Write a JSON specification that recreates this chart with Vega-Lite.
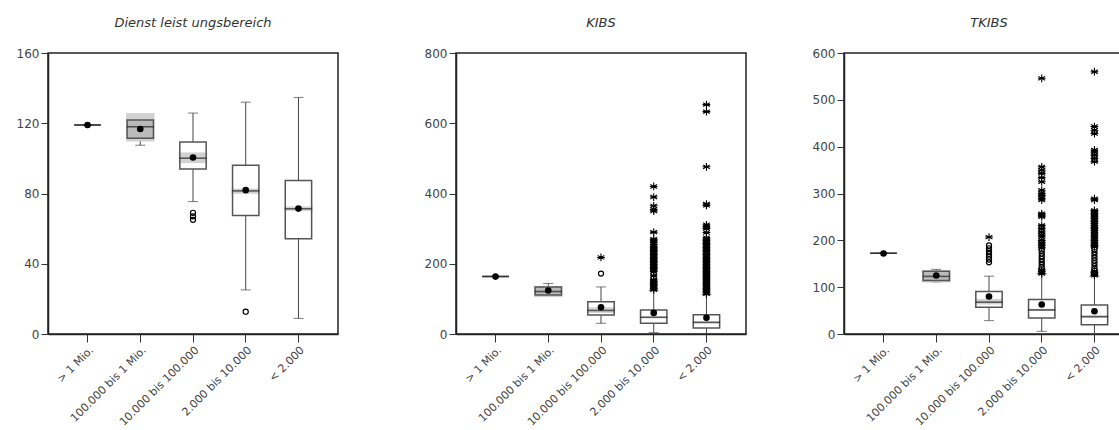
{
  "$schema": "https://vega.github.io/schema/vega-lite/v6.json",
  "padding": {"left": 15, "top": 16, "right": 0, "bottom": 0},
  "background": "white",
  "config": {
    "font": "DejaVu Sans",
    "view": {"stroke": "#222", "strokeWidth": 1.5},
    "axis": {"labelFont": "DejaVu Sans", "labelFontSize": 12, "labelColor": "#444", "tickColor": "#333", "domainColor": "#222", "domainWidth": 1.5, "grid": false, "tickSize": 7, "labelPadding": 2},
    "axisX": {"labelAngle": -45, "tickSize": 8, "labelPadding": 2, "labelFontSize": 11},
    "title": {"font": "DejaVu Sans", "fontSize": 13, "fontStyle": "italic", "fontWeight": "normal", "color": "#333", "offset": 17}
  },
  "datasets": {
    "boxes": [
      {"panel": "D", "cat": "> 1 Mio.", "lo": 119, "q1": 119, "med": 119, "q3": 119, "hi": 119, "mean": 119, "ciLo": 119, "ciHi": 119, "tone": "plain"},
      {"panel": "D", "cat": "100.000 bis 1 Mio.", "lo": 107.5, "q1": 111.5, "med": 118, "q3": 121.8, "hi": 123.5, "mean": 116.7, "ciLo": 109.6, "ciHi": 125.8, "tone": "dark"},
      {"panel": "D", "cat": "10.000 bis 100.000", "lo": 75.4, "q1": 93.9, "med": 100.1, "q3": 109.3, "hi": 125.8, "mean": 100.5, "ciLo": 97.3, "ciHi": 103.4, "tone": "plain"},
      {"panel": "D", "cat": "2.000 bis 10.000", "lo": 25.1, "q1": 67.5, "med": 81.5, "q3": 96.1, "hi": 132, "mean": 81.9, "ciLo": 79.8, "ciHi": 82.8, "tone": "plain"},
      {"panel": "D", "cat": "< 2.000", "lo": 8.9, "q1": 54.2, "med": 71.3, "q3": 87.4, "hi": 134.7, "mean": 71.4, "ciLo": 70.1, "ciHi": 72.6, "tone": "plain"},
      {"panel": "K", "cat": "> 1 Mio.", "lo": 163.8, "q1": 163.8, "med": 163.8, "q3": 163.8, "hi": 163.8, "mean": 163.5, "ciLo": 163.8, "ciHi": 163.8, "tone": "plain"},
      {"panel": "K", "cat": "100.000 bis 1 Mio.", "lo": 107, "q1": 111, "med": 121, "q3": 134, "hi": 144, "mean": 124, "ciLo": 105, "ciHi": 137, "tone": "dark"},
      {"panel": "K", "cat": "10.000 bis 100.000", "lo": 30.5, "q1": 54, "med": 67, "q3": 92, "hi": 134, "mean": 76, "ciLo": 60, "ciHi": 76, "tone": "plain"},
      {"panel": "K", "cat": "2.000 bis 10.000", "lo": 4, "q1": 30.5, "med": 47.6, "q3": 68.5, "hi": 124, "mean": 60, "ciLo": 45, "ciHi": 50, "tone": "plain"},
      {"panel": "K", "cat": "< 2.000", "lo": 1, "q1": 17, "med": 33, "q3": 55, "hi": 112, "mean": 46, "ciLo": 31, "ciHi": 35, "tone": "plain"},
      {"panel": "T", "cat": "> 1 Mio.", "lo": 172.5, "q1": 172.5, "med": 172.5, "q3": 172.5, "hi": 172.5, "mean": 172, "ciLo": 172.5, "ciHi": 172.5, "tone": "plain"},
      {"panel": "T", "cat": "100.000 bis 1 Mio.", "lo": 111, "q1": 114, "med": 123, "q3": 134, "hi": 138, "mean": 125, "ciLo": 110, "ciHi": 136, "tone": "dark"},
      {"panel": "T", "cat": "10.000 bis 100.000", "lo": 28.5, "q1": 57, "med": 68, "q3": 91, "hi": 123.5, "mean": 80, "ciLo": 63, "ciHi": 75, "tone": "plain"},
      {"panel": "T", "cat": "2.000 bis 10.000", "lo": 5.7, "q1": 34, "med": 51.4, "q3": 73.5, "hi": 128.5, "mean": 63, "ciLo": 49, "ciHi": 54, "tone": "plain"},
      {"panel": "T", "cat": "< 2.000", "lo": 0, "q1": 20, "med": 37, "q3": 62, "hi": 123.5, "mean": 48.5, "ciLo": 35, "ciHi": 39, "tone": "plain"}
    ],
    "outs": [
      {"panel": "D", "cat": "10.000 bis 100.000", "v": 69, "kind": "o"},
      {"panel": "D", "cat": "10.000 bis 100.000", "v": 67, "kind": "o"},
      {"panel": "D", "cat": "10.000 bis 100.000", "v": 65, "kind": "o"},
      {"panel": "D", "cat": "2.000 bis 10.000", "v": 12.7, "kind": "o"},

      {"panel": "K", "cat": "10.000 bis 100.000", "v": 172, "kind": "o"},
      {"panel": "K", "cat": "10.000 bis 100.000", "v": 218, "kind": "star"},
      {"panel": "K", "cat": "2.000 bis 10.000", "v": 126, "kind": "star"},
      {"panel": "K", "cat": "2.000 bis 10.000", "v": 130, "kind": "star"},
      {"panel": "K", "cat": "2.000 bis 10.000", "v": 134, "kind": "star"},
      {"panel": "K", "cat": "2.000 bis 10.000", "v": 138, "kind": "star"},
      {"panel": "K", "cat": "2.000 bis 10.000", "v": 142, "kind": "star"},
      {"panel": "K", "cat": "2.000 bis 10.000", "v": 146, "kind": "star"},
      {"panel": "K", "cat": "2.000 bis 10.000", "v": 150, "kind": "star"},
      {"panel": "K", "cat": "2.000 bis 10.000", "v": 154, "kind": "star"},
      {"panel": "K", "cat": "2.000 bis 10.000", "v": 160, "kind": "o"},
      {"panel": "K", "cat": "2.000 bis 10.000", "v": 166, "kind": "star"},
      {"panel": "K", "cat": "2.000 bis 10.000", "v": 172, "kind": "o"},
      {"panel": "K", "cat": "2.000 bis 10.000", "v": 178, "kind": "star"},
      {"panel": "K", "cat": "2.000 bis 10.000", "v": 182, "kind": "star"},
      {"panel": "K", "cat": "2.000 bis 10.000", "v": 186, "kind": "star"},
      {"panel": "K", "cat": "2.000 bis 10.000", "v": 190, "kind": "star"},
      {"panel": "K", "cat": "2.000 bis 10.000", "v": 194, "kind": "star"},
      {"panel": "K", "cat": "2.000 bis 10.000", "v": 198, "kind": "star"},
      {"panel": "K", "cat": "2.000 bis 10.000", "v": 202, "kind": "star"},
      {"panel": "K", "cat": "2.000 bis 10.000", "v": 206, "kind": "star"},
      {"panel": "K", "cat": "2.000 bis 10.000", "v": 210, "kind": "star"},
      {"panel": "K", "cat": "2.000 bis 10.000", "v": 214, "kind": "star"},
      {"panel": "K", "cat": "2.000 bis 10.000", "v": 218, "kind": "star"},
      {"panel": "K", "cat": "2.000 bis 10.000", "v": 222, "kind": "star"},
      {"panel": "K", "cat": "2.000 bis 10.000", "v": 226, "kind": "star"},
      {"panel": "K", "cat": "2.000 bis 10.000", "v": 230, "kind": "star"},
      {"panel": "K", "cat": "2.000 bis 10.000", "v": 234, "kind": "star"},
      {"panel": "K", "cat": "2.000 bis 10.000", "v": 238, "kind": "star"},
      {"panel": "K", "cat": "2.000 bis 10.000", "v": 242, "kind": "star"},
      {"panel": "K", "cat": "2.000 bis 10.000", "v": 246, "kind": "star"},
      {"panel": "K", "cat": "2.000 bis 10.000", "v": 250, "kind": "star"},
      {"panel": "K", "cat": "2.000 bis 10.000", "v": 255, "kind": "star"},
      {"panel": "K", "cat": "2.000 bis 10.000", "v": 260, "kind": "star"},
      {"panel": "K", "cat": "2.000 bis 10.000", "v": 265, "kind": "star"},
      {"panel": "K", "cat": "2.000 bis 10.000", "v": 270, "kind": "star"},
      {"panel": "K", "cat": "2.000 bis 10.000", "v": 290, "kind": "star"},
      {"panel": "K", "cat": "2.000 bis 10.000", "v": 350, "kind": "star"},
      {"panel": "K", "cat": "2.000 bis 10.000", "v": 355, "kind": "star"},
      {"panel": "K", "cat": "2.000 bis 10.000", "v": 365, "kind": "star"},
      {"panel": "K", "cat": "2.000 bis 10.000", "v": 390, "kind": "star"},
      {"panel": "K", "cat": "2.000 bis 10.000", "v": 420, "kind": "star"},
      {"panel": "K", "cat": "< 2.000", "v": 114, "kind": "star"},
      {"panel": "K", "cat": "< 2.000", "v": 118, "kind": "star"},
      {"panel": "K", "cat": "< 2.000", "v": 122, "kind": "star"},
      {"panel": "K", "cat": "< 2.000", "v": 126, "kind": "star"},
      {"panel": "K", "cat": "< 2.000", "v": 130, "kind": "star"},
      {"panel": "K", "cat": "< 2.000", "v": 134, "kind": "star"},
      {"panel": "K", "cat": "< 2.000", "v": 138, "kind": "star"},
      {"panel": "K", "cat": "< 2.000", "v": 142, "kind": "star"},
      {"panel": "K", "cat": "< 2.000", "v": 146, "kind": "star"},
      {"panel": "K", "cat": "< 2.000", "v": 150, "kind": "star"},
      {"panel": "K", "cat": "< 2.000", "v": 154, "kind": "star"},
      {"panel": "K", "cat": "< 2.000", "v": 158, "kind": "star"},
      {"panel": "K", "cat": "< 2.000", "v": 162, "kind": "star"},
      {"panel": "K", "cat": "< 2.000", "v": 166, "kind": "star"},
      {"panel": "K", "cat": "< 2.000", "v": 170, "kind": "star"},
      {"panel": "K", "cat": "< 2.000", "v": 174, "kind": "star"},
      {"panel": "K", "cat": "< 2.000", "v": 178, "kind": "star"},
      {"panel": "K", "cat": "< 2.000", "v": 182, "kind": "star"},
      {"panel": "K", "cat": "< 2.000", "v": 186, "kind": "star"},
      {"panel": "K", "cat": "< 2.000", "v": 190, "kind": "star"},
      {"panel": "K", "cat": "< 2.000", "v": 194, "kind": "star"},
      {"panel": "K", "cat": "< 2.000", "v": 198, "kind": "star"},
      {"panel": "K", "cat": "< 2.000", "v": 202, "kind": "star"},
      {"panel": "K", "cat": "< 2.000", "v": 206, "kind": "star"},
      {"panel": "K", "cat": "< 2.000", "v": 210, "kind": "star"},
      {"panel": "K", "cat": "< 2.000", "v": 214, "kind": "star"},
      {"panel": "K", "cat": "< 2.000", "v": 218, "kind": "star"},
      {"panel": "K", "cat": "< 2.000", "v": 222, "kind": "star"},
      {"panel": "K", "cat": "< 2.000", "v": 226, "kind": "star"},
      {"panel": "K", "cat": "< 2.000", "v": 230, "kind": "star"},
      {"panel": "K", "cat": "< 2.000", "v": 234, "kind": "star"},
      {"panel": "K", "cat": "< 2.000", "v": 238, "kind": "star"},
      {"panel": "K", "cat": "< 2.000", "v": 242, "kind": "star"},
      {"panel": "K", "cat": "< 2.000", "v": 246, "kind": "star"},
      {"panel": "K", "cat": "< 2.000", "v": 250, "kind": "star"},
      {"panel": "K", "cat": "< 2.000", "v": 254, "kind": "star"},
      {"panel": "K", "cat": "< 2.000", "v": 258, "kind": "star"},
      {"panel": "K", "cat": "< 2.000", "v": 262, "kind": "star"},
      {"panel": "K", "cat": "< 2.000", "v": 266, "kind": "star"},
      {"panel": "K", "cat": "< 2.000", "v": 270, "kind": "star"},
      {"panel": "K", "cat": "< 2.000", "v": 274, "kind": "star"},
      {"panel": "K", "cat": "< 2.000", "v": 289, "kind": "star"},
      {"panel": "K", "cat": "< 2.000", "v": 300, "kind": "star"},
      {"panel": "K", "cat": "< 2.000", "v": 305, "kind": "star"},
      {"panel": "K", "cat": "< 2.000", "v": 311, "kind": "star"},
      {"panel": "K", "cat": "< 2.000", "v": 366, "kind": "star"},
      {"panel": "K", "cat": "< 2.000", "v": 370, "kind": "star"},
      {"panel": "K", "cat": "< 2.000", "v": 476, "kind": "star"},
      {"panel": "K", "cat": "< 2.000", "v": 633, "kind": "star"},
      {"panel": "K", "cat": "< 2.000", "v": 653, "kind": "star"},

      {"panel": "T", "cat": "10.000 bis 100.000", "v": 153, "kind": "o"},
      {"panel": "T", "cat": "10.000 bis 100.000", "v": 159, "kind": "o"},
      {"panel": "T", "cat": "10.000 bis 100.000", "v": 165, "kind": "o"},
      {"panel": "T", "cat": "10.000 bis 100.000", "v": 171, "kind": "o"},
      {"panel": "T", "cat": "10.000 bis 100.000", "v": 177, "kind": "o"},
      {"panel": "T", "cat": "10.000 bis 100.000", "v": 183, "kind": "o"},
      {"panel": "T", "cat": "10.000 bis 100.000", "v": 189, "kind": "o"},
      {"panel": "T", "cat": "10.000 bis 100.000", "v": 207, "kind": "star"},
      {"panel": "T", "cat": "2.000 bis 10.000", "v": 129, "kind": "star"},
      {"panel": "T", "cat": "2.000 bis 10.000", "v": 133, "kind": "star"},
      {"panel": "T", "cat": "2.000 bis 10.000", "v": 137, "kind": "star"},
      {"panel": "T", "cat": "2.000 bis 10.000", "v": 142, "kind": "o"},
      {"panel": "T", "cat": "2.000 bis 10.000", "v": 148, "kind": "o"},
      {"panel": "T", "cat": "2.000 bis 10.000", "v": 154, "kind": "o"},
      {"panel": "T", "cat": "2.000 bis 10.000", "v": 160, "kind": "o"},
      {"panel": "T", "cat": "2.000 bis 10.000", "v": 166, "kind": "o"},
      {"panel": "T", "cat": "2.000 bis 10.000", "v": 172, "kind": "o"},
      {"panel": "T", "cat": "2.000 bis 10.000", "v": 178, "kind": "o"},
      {"panel": "T", "cat": "2.000 bis 10.000", "v": 184, "kind": "star"},
      {"panel": "T", "cat": "2.000 bis 10.000", "v": 189, "kind": "star"},
      {"panel": "T", "cat": "2.000 bis 10.000", "v": 194, "kind": "star"},
      {"panel": "T", "cat": "2.000 bis 10.000", "v": 200, "kind": "star"},
      {"panel": "T", "cat": "2.000 bis 10.000", "v": 207, "kind": "star"},
      {"panel": "T", "cat": "2.000 bis 10.000", "v": 212, "kind": "star"},
      {"panel": "T", "cat": "2.000 bis 10.000", "v": 218, "kind": "star"},
      {"panel": "T", "cat": "2.000 bis 10.000", "v": 225, "kind": "star"},
      {"panel": "T", "cat": "2.000 bis 10.000", "v": 232, "kind": "star"},
      {"panel": "T", "cat": "2.000 bis 10.000", "v": 250, "kind": "star"},
      {"panel": "T", "cat": "2.000 bis 10.000", "v": 254, "kind": "star"},
      {"panel": "T", "cat": "2.000 bis 10.000", "v": 257, "kind": "star"},
      {"panel": "T", "cat": "2.000 bis 10.000", "v": 286, "kind": "star"},
      {"panel": "T", "cat": "2.000 bis 10.000", "v": 290, "kind": "star"},
      {"panel": "T", "cat": "2.000 bis 10.000", "v": 296, "kind": "star"},
      {"panel": "T", "cat": "2.000 bis 10.000", "v": 300, "kind": "star"},
      {"panel": "T", "cat": "2.000 bis 10.000", "v": 307, "kind": "star"},
      {"panel": "T", "cat": "2.000 bis 10.000", "v": 325, "kind": "star"},
      {"panel": "T", "cat": "2.000 bis 10.000", "v": 334, "kind": "star"},
      {"panel": "T", "cat": "2.000 bis 10.000", "v": 343, "kind": "star"},
      {"panel": "T", "cat": "2.000 bis 10.000", "v": 350, "kind": "star"},
      {"panel": "T", "cat": "2.000 bis 10.000", "v": 357, "kind": "star"},
      {"panel": "T", "cat": "2.000 bis 10.000", "v": 546, "kind": "star"},
      {"panel": "T", "cat": "< 2.000", "v": 125, "kind": "star"},
      {"panel": "T", "cat": "< 2.000", "v": 128, "kind": "star"},
      {"panel": "T", "cat": "< 2.000", "v": 131, "kind": "star"},
      {"panel": "T", "cat": "< 2.000", "v": 134, "kind": "star"},
      {"panel": "T", "cat": "< 2.000", "v": 139, "kind": "o"},
      {"panel": "T", "cat": "< 2.000", "v": 145, "kind": "o"},
      {"panel": "T", "cat": "< 2.000", "v": 151, "kind": "o"},
      {"panel": "T", "cat": "< 2.000", "v": 157, "kind": "o"},
      {"panel": "T", "cat": "< 2.000", "v": 163, "kind": "o"},
      {"panel": "T", "cat": "< 2.000", "v": 169, "kind": "o"},
      {"panel": "T", "cat": "< 2.000", "v": 175, "kind": "o"},
      {"panel": "T", "cat": "< 2.000", "v": 181, "kind": "o"},
      {"panel": "T", "cat": "< 2.000", "v": 186, "kind": "star"},
      {"panel": "T", "cat": "< 2.000", "v": 189, "kind": "star"},
      {"panel": "T", "cat": "< 2.000", "v": 192, "kind": "star"},
      {"panel": "T", "cat": "< 2.000", "v": 196, "kind": "star"},
      {"panel": "T", "cat": "< 2.000", "v": 200, "kind": "star"},
      {"panel": "T", "cat": "< 2.000", "v": 203, "kind": "star"},
      {"panel": "T", "cat": "< 2.000", "v": 207, "kind": "star"},
      {"panel": "T", "cat": "< 2.000", "v": 211, "kind": "star"},
      {"panel": "T", "cat": "< 2.000", "v": 216, "kind": "star"},
      {"panel": "T", "cat": "< 2.000", "v": 221, "kind": "star"},
      {"panel": "T", "cat": "< 2.000", "v": 225, "kind": "star"},
      {"panel": "T", "cat": "< 2.000", "v": 228, "kind": "star"},
      {"panel": "T", "cat": "< 2.000", "v": 232, "kind": "star"},
      {"panel": "T", "cat": "< 2.000", "v": 236, "kind": "star"},
      {"panel": "T", "cat": "< 2.000", "v": 240, "kind": "star"},
      {"panel": "T", "cat": "< 2.000", "v": 243, "kind": "star"},
      {"panel": "T", "cat": "< 2.000", "v": 247, "kind": "star"},
      {"panel": "T", "cat": "< 2.000", "v": 250, "kind": "star"},
      {"panel": "T", "cat": "< 2.000", "v": 254, "kind": "star"},
      {"panel": "T", "cat": "< 2.000", "v": 257, "kind": "star"},
      {"panel": "T", "cat": "< 2.000", "v": 261, "kind": "star"},
      {"panel": "T", "cat": "< 2.000", "v": 264, "kind": "star"},
      {"panel": "T", "cat": "< 2.000", "v": 286, "kind": "star"},
      {"panel": "T", "cat": "< 2.000", "v": 289, "kind": "star"},
      {"panel": "T", "cat": "< 2.000", "v": 368, "kind": "star"},
      {"panel": "T", "cat": "< 2.000", "v": 375, "kind": "star"},
      {"panel": "T", "cat": "< 2.000", "v": 382, "kind": "star"},
      {"panel": "T", "cat": "< 2.000", "v": 388, "kind": "star"},
      {"panel": "T", "cat": "< 2.000", "v": 393, "kind": "star"},
      {"panel": "T", "cat": "< 2.000", "v": 428, "kind": "star"},
      {"panel": "T", "cat": "< 2.000", "v": 435, "kind": "star"},
      {"panel": "T", "cat": "< 2.000", "v": 443, "kind": "star"},
      {"panel": "T", "cat": "< 2.000", "v": 560, "kind": "star"}
    ]
  },
  "resolve": {"scale": {"x": "independent", "y": "independent"}},
  "spacing": 64,
  "hconcat": [
    {
      "spacing": 84,
      "resolve": {"scale": {"x": "independent", "y": "independent"}},
      "hconcat": [
        {
          "width": 290, "height": 281,
          "title": {"text": "Dienst leist ungsbereich"},
          "layer": [
            {
              "data": {"name": "boxes"},
              "transform": [{"filter": "datum.panel === 'D'"}],
              "encoding": {"x": {"field": "cat", "type": "nominal", "title": null, "scale": {"domain": ["> 1 Mio.", "100.000 bis 1 Mio.", "10.000 bis 100.000", "2.000 bis 10.000", "< 2.000"], "paddingInner": 0.5, "paddingOuter": 0.5}}},
              "layer": [
                {"mark": {"type": "rule", "color": "#444"}, "encoding": {"y": {"field": "lo", "type": "quantitative", "title": null, "scale": {"domain": [0, 160], "nice": false}, "axis": {"values": [0, 40, 80, 120, 160]}}, "y2": {"field": "q1"}}},
                {"mark": {"type": "rule", "color": "#444"}, "encoding": {"y": {"field": "q3", "type": "quantitative", "title": null}, "y2": {"field": "hi"}}},
                {"mark": {"type": "tick", "size": 10, "thickness": 1, "color": "#444"}, "encoding": {"y": {"field": "lo", "type": "quantitative", "title": null}}},
                {"mark": {"type": "tick", "size": 10, "thickness": 1, "color": "#444"}, "encoding": {"y": {"field": "hi", "type": "quantitative", "title": null}}},
                {"mark": {"type": "bar", "color": "#d2d2d2", "width": {"band": 1.08}}, "encoding": {"y": {"field": "ciLo", "type": "quantitative", "title": null}, "y2": {"field": "ciHi"}}},
                {"mark": {"type": "bar", "stroke": "#555", "strokeWidth": 1.5}, "encoding": {"y": {"field": "q1", "type": "quantitative", "title": null}, "y2": {"field": "q3"}, "fill": {"condition": {"test": "datum.tone === 'dark'", "value": "#bababa"}, "value": "transparent"}}},
                {"mark": {"type": "tick", "size": 27, "thickness": 1.6, "color": "#222"}, "encoding": {"y": {"field": "med", "type": "quantitative", "title": null}}},
                {"mark": {"type": "point", "filled": true, "color": "#000", "size": 44, "opacity": 1}, "encoding": {"y": {"field": "mean", "type": "quantitative", "title": null}}}
              ]
            },
            {
              "data": {"name": "outs"},
              "transform": [{"filter": "datum.panel === 'D'"}],
              "encoding": {"x": {"field": "cat", "type": "nominal", "title": null}, "y": {"field": "v", "type": "quantitative", "title": null}},
              "layer": [
                {"transform": [{"filter": "datum.kind === 'o'"}], "mark": {"type": "point", "shape": "circle", "filled": false, "stroke": "#000", "strokeWidth": 1.2, "size": 26, "opacity": 1}},
                {"transform": [{"filter": "datum.kind === 'star'"}], "mark": {"type": "point", "shape": "M0,-1L0,1M-0.87,-0.5L0.87,0.5M-0.87,0.5L0.87,-0.5M-1,0L1,0", "filled": false, "stroke": "#000", "strokeWidth": 1.1, "size": 60, "opacity": 1}}
              ]
            },
            {"mark": {"type": "rule", "color": "#555", "strokeWidth": 1}, "encoding": {"y": {"datum": 100}}}
          ]
        },
        {
          "width": 290, "height": 281,
          "title": {"text": "KIBS"},
          "layer": [
            {
              "data": {"name": "boxes"},
              "transform": [{"filter": "datum.panel === 'K'"}],
              "encoding": {"x": {"field": "cat", "type": "nominal", "title": null, "scale": {"domain": ["> 1 Mio.", "100.000 bis 1 Mio.", "10.000 bis 100.000", "2.000 bis 10.000", "< 2.000"], "paddingInner": 0.5, "paddingOuter": 0.5}}},
              "layer": [
                {"mark": {"type": "rule", "color": "#444"}, "encoding": {"y": {"field": "lo", "type": "quantitative", "title": null, "scale": {"domain": [0, 800], "nice": false}, "axis": {"values": [0, 200, 400, 600, 800]}}, "y2": {"field": "q1"}}},
                {"mark": {"type": "rule", "color": "#444"}, "encoding": {"y": {"field": "q3", "type": "quantitative", "title": null}, "y2": {"field": "hi"}}},
                {"mark": {"type": "tick", "size": 10, "thickness": 1, "color": "#444"}, "encoding": {"y": {"field": "lo", "type": "quantitative", "title": null}}},
                {"mark": {"type": "tick", "size": 10, "thickness": 1, "color": "#444"}, "encoding": {"y": {"field": "hi", "type": "quantitative", "title": null}}},
                {"mark": {"type": "bar", "color": "#d2d2d2", "width": {"band": 1.08}}, "encoding": {"y": {"field": "ciLo", "type": "quantitative", "title": null}, "y2": {"field": "ciHi"}}},
                {"mark": {"type": "bar", "stroke": "#555", "strokeWidth": 1.5}, "encoding": {"y": {"field": "q1", "type": "quantitative", "title": null}, "y2": {"field": "q3"}, "fill": {"condition": {"test": "datum.tone === 'dark'", "value": "#bababa"}, "value": "transparent"}}},
                {"mark": {"type": "tick", "size": 27, "thickness": 1.6, "color": "#222"}, "encoding": {"y": {"field": "med", "type": "quantitative", "title": null}}},
                {"mark": {"type": "point", "filled": true, "color": "#000", "size": 44, "opacity": 1}, "encoding": {"y": {"field": "mean", "type": "quantitative", "title": null}}}
              ]
            },
            {
              "data": {"name": "outs"},
              "transform": [{"filter": "datum.panel === 'K'"}],
              "encoding": {"x": {"field": "cat", "type": "nominal", "title": null}, "y": {"field": "v", "type": "quantitative", "title": null}},
              "layer": [
                {"transform": [{"filter": "datum.kind === 'o'"}], "mark": {"type": "point", "shape": "circle", "filled": false, "stroke": "#000", "strokeWidth": 1.2, "size": 26, "opacity": 1}},
                {"transform": [{"filter": "datum.kind === 'star'"}], "mark": {"type": "point", "shape": "M0,-1L0,1M-0.87,-0.5L0.87,0.5M-0.87,0.5L0.87,-0.5M-1,0L1,0", "filled": false, "stroke": "#000", "strokeWidth": 1.1, "size": 60, "opacity": 1}}
              ]
            },
            {"mark": {"type": "rule", "color": "#555", "strokeWidth": 1}, "encoding": {"y": {"datum": 100}}}
          ]
        }
      ]
    },
    {
      "width": 290, "height": 281,
      "title": {"text": "TKIBS"},
      "layer": [
        {
          "data": {"name": "boxes"},
          "transform": [{"filter": "datum.panel === 'T'"}],
          "encoding": {"x": {"field": "cat", "type": "nominal", "title": null, "scale": {"domain": ["> 1 Mio.", "100.000 bis 1 Mio.", "10.000 bis 100.000", "2.000 bis 10.000", "< 2.000"], "paddingInner": 0.5, "paddingOuter": 0.5}}},
          "layer": [
            {"mark": {"type": "rule", "color": "#444"}, "encoding": {"y": {"field": "lo", "type": "quantitative", "title": null, "scale": {"domain": [0, 600], "nice": false}, "axis": {"values": [0, 100, 200, 300, 400, 500, 600]}}, "y2": {"field": "q1"}}},
            {"mark": {"type": "rule", "color": "#444"}, "encoding": {"y": {"field": "q3", "type": "quantitative", "title": null}, "y2": {"field": "hi"}}},
            {"mark": {"type": "tick", "size": 10, "thickness": 1, "color": "#444"}, "encoding": {"y": {"field": "lo", "type": "quantitative", "title": null}}},
            {"mark": {"type": "tick", "size": 10, "thickness": 1, "color": "#444"}, "encoding": {"y": {"field": "hi", "type": "quantitative", "title": null}}},
            {"mark": {"type": "bar", "color": "#d2d2d2", "width": {"band": 1.08}}, "encoding": {"y": {"field": "ciLo", "type": "quantitative", "title": null}, "y2": {"field": "ciHi"}}},
            {"mark": {"type": "bar", "stroke": "#555", "strokeWidth": 1.5}, "encoding": {"y": {"field": "q1", "type": "quantitative", "title": null}, "y2": {"field": "q3"}, "fill": {"condition": {"test": "datum.tone === 'dark'", "value": "#bababa"}, "value": "transparent"}}},
            {"mark": {"type": "tick", "size": 27, "thickness": 1.6, "color": "#222"}, "encoding": {"y": {"field": "med", "type": "quantitative", "title": null}}},
            {"mark": {"type": "point", "filled": true, "color": "#000", "size": 44, "opacity": 1}, "encoding": {"y": {"field": "mean", "type": "quantitative", "title": null}}}
          ]
        },
        {
          "data": {"name": "outs"},
          "transform": [{"filter": "datum.panel === 'T'"}],
          "encoding": {"x": {"field": "cat", "type": "nominal", "title": null}, "y": {"field": "v", "type": "quantitative", "title": null}},
          "layer": [
            {"transform": [{"filter": "datum.kind === 'o'"}], "mark": {"type": "point", "shape": "circle", "filled": false, "stroke": "#000", "strokeWidth": 1.2, "size": 26, "opacity": 1}},
            {"transform": [{"filter": "datum.kind === 'star'"}], "mark": {"type": "point", "shape": "M0,-1L0,1M-0.87,-0.5L0.87,0.5M-0.87,0.5L0.87,-0.5M-1,0L1,0", "filled": false, "stroke": "#000", "strokeWidth": 1.1, "size": 60, "opacity": 1}}
          ]
        },
        {"mark": {"type": "rule", "color": "#555", "strokeWidth": 1}, "encoding": {"y": {"datum": 100}}}
      ]
    }
  ]
}
